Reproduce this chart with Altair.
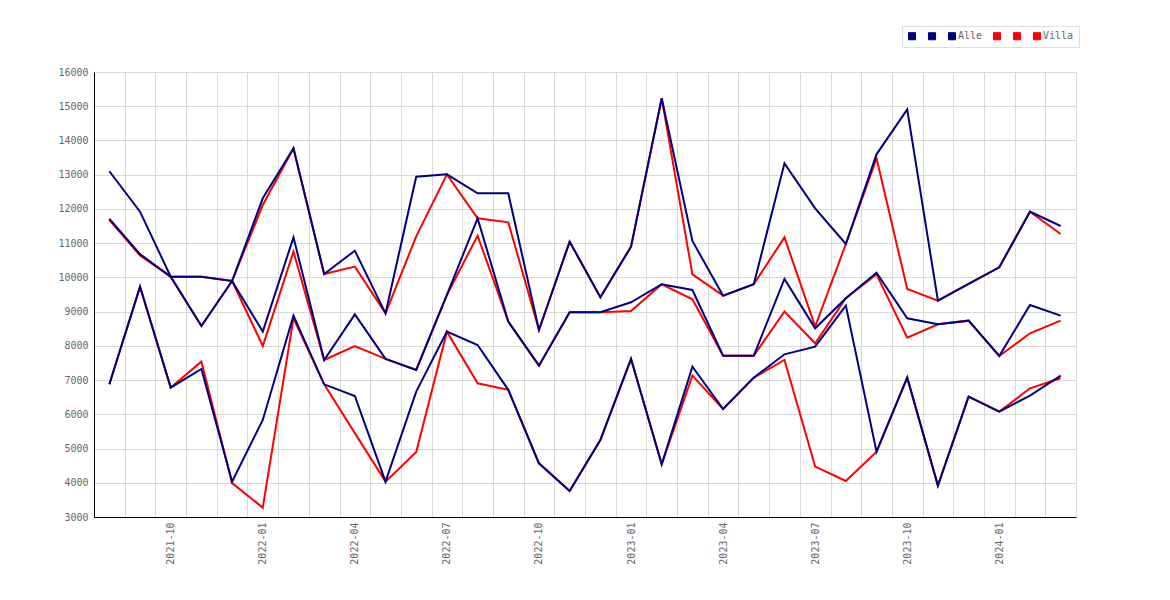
import altair as alt
import pandas as pd

months = ["2021-08", "2021-09", "2021-10", "2021-11", "2021-12",
          "2022-01", "2022-02", "2022-03", "2022-04", "2022-05", "2022-06",
          "2022-07", "2022-08", "2022-09", "2022-10", "2022-11", "2022-12",
          "2023-01", "2023-02", "2023-03", "2023-04", "2023-05", "2023-06",
          "2023-07", "2023-08", "2023-09", "2023-10", "2023-11", "2023-12",
          "2024-01", "2024-02", "2024-03"]

alle_1 = [13100, 11920, 10020, 10020, 9895, 12310, 13770, 10100, 10780, 8950, 12940,
          13010, 12456, 12456, 8464, 11044, 9418, 10898, 15231, 11063, 9466, 9798,
          13332, 12018, 10976, 13595, 14910, 9320, 9807, 10294, 11920, 11502]
alle_2 = [11706, 10674, 10020, 8580, 9895, 8415, 11170, 7587, 8921, 7620, 7295,
          9486, 11725, 8707, 7422, 8980, 8980, 9272, 9800, 9632, 7714, 7714,
          9953, 8512, 9389, 10138, 8804, 8629, 8736, 7704, 9194, 8882]
alle_3 = [6876, 9730, 6780, 7324, 4033, 5835, 8882, 6876, 6536, 4033, 6662,
          8415, 8025, 6715, 4569, 3761, 5250, 7616, 4540, 7393, 6156, 7071,
          7753, 7977, 9174, 4910, 7071, 3916, 6516, 6078, 6545, 7130]

villa_1 = [11680, 10640, 10020, 10020, 9895, 12115, 13770, 10100, 10314, 8950, 11200,
           13010, 11725, 11609, 8464, 11044, 9418, 10898, 15231, 10090, 9466, 9798,
           11170, 8561, 10976, 13478, 9661, 9320, 9807, 10294, 11920, 11268]
villa_2 = [11706, 10674, 10020, 8580, 9895, 7996, 10752, 7587, 7996, 7620, 7295,
           9486, 11219, 8707, 7422, 8980, 8980, 9019, 9800, 9359, 7714, 7714,
           8999, 8074, 9389, 10090, 8240, 8629, 8736, 7704, 8366, 8736]
villa_3 = [6876, 9730, 6780, 7539, 3990, 3274, 8804, 6876, 5450, 4033, 4900,
           8415, 6906, 6715, 4569, 3761, 5250, 7616, 4540, 7130, 6156, 7071,
           7587, 4471, 4053, 4910, 7071, 3916, 6516, 6078, 6760, 7052]

series_names = ["Alle_1", "Alle_2", "Alle", "Villa_1", "Villa_2", "Villa"]
series_values = [alle_1, alle_2, alle_3, villa_1, villa_2, villa_3]
series_colors = ["#000080", "#000080", "#000080", "#ff0000", "#ff0000", "#ff0000"]
series_group = ["Alle", "Alle", "Alle", "Villa", "Villa", "Villa"]

rows = []
for name, grp, vals in zip(series_names, series_group, series_values):
    for m, v in zip(months, vals):
        rows.append({"month": m, "value": v, "series": name, "group": grp})
df = pd.DataFrame(rows)

FONT = "DejaVu Sans Mono"
TEXT = "#666666"

x_enc = alt.X(
    "month:O",
    sort=months,
    bandPosition=0.5,
    scale=alt.Scale(type="band", paddingInner=0, paddingOuter=0),
    axis=alt.Axis(
        title=None,
        tickBand="extent",
        grid=True,
        gridColor="#d9d9d9",
        ticks=False,
        tickSize=0,
        domainColor="#000000",
        labelAngle=-90,
        labelPadding=5,
        labelFont=FONT,
        labelFontSize=10,
        labelColor=TEXT,
        labelOverlap=False,
        labelExpr="indexof(['01','04','07','10'], substring(datum.label, 5, 7)) >= 0 ? datum.label : ''",
    ),
)
y_enc = alt.Y(
    "value:Q",
    scale=alt.Scale(domain=[3000, 16000], nice=False, zero=False),
    axis=alt.Axis(
        title=None,
        values=list(range(3000, 16001, 1000)),
        format="d",
        grid=True,
        gridColor="#d9d9d9",
        ticks=False,
        tickSize=0,
        domainColor="#000000",
        labelPadding=6,
        labelFont=FONT,
        labelFontSize=10,
        labelColor=TEXT,
    ),
)
color_scale = alt.Scale(domain=series_names, range=series_colors)
legend = alt.Legend(
    title=None,
    orient="none",
    direction="horizontal",
    legendX=808,
    legendY=-46,
    symbolType="square",
    symbolSize=50,
    symbolStrokeColor="#555555",
    symbolStrokeWidth=1,
    symbolOpacity=1,
    labelFont=FONT,
    labelFontSize=10,
    labelColor=TEXT,
    labelOffset=1,
    columnPadding=8,
    padding=5,
    strokeColor="#dddddd",
    labelExpr="indexof(datum.label, '_') >= 0 ? '' : datum.label",
)

base = alt.Chart(df).encode(x=x_enc, y=y_enc, detail="series:N")

# invisible filled squares at the data points: they only provide the filled legend symbols
key = base.mark_square(filled=True, size=0).encode(
    color=alt.Color("series:N", scale=color_scale, sort=series_names, legend=legend)
)
line_color = alt.Color("series:N", scale=color_scale, sort=series_names, legend=None)
red = (
    base.transform_filter(alt.datum.group == "Villa")
    .mark_line(strokeWidth=2)
    .encode(color=line_color)
)
blue = (
    base.transform_filter(alt.datum.group == "Alle")
    .mark_line(strokeWidth=2)
    .encode(color=line_color)
)

chart = (
    alt.layer(key, red, blue)
    .properties(
        width=982,
        height=445,
        autosize=alt.AutoSizeParams(type="none"),
        padding={"left": 86, "top": 64, "right": 80, "bottom": 70},
        background="#ffffff",
    )
    .configure_view(strokeWidth=0)
)

chart.save("out.html", embed_options={"renderer": "svg", "actions": False})
